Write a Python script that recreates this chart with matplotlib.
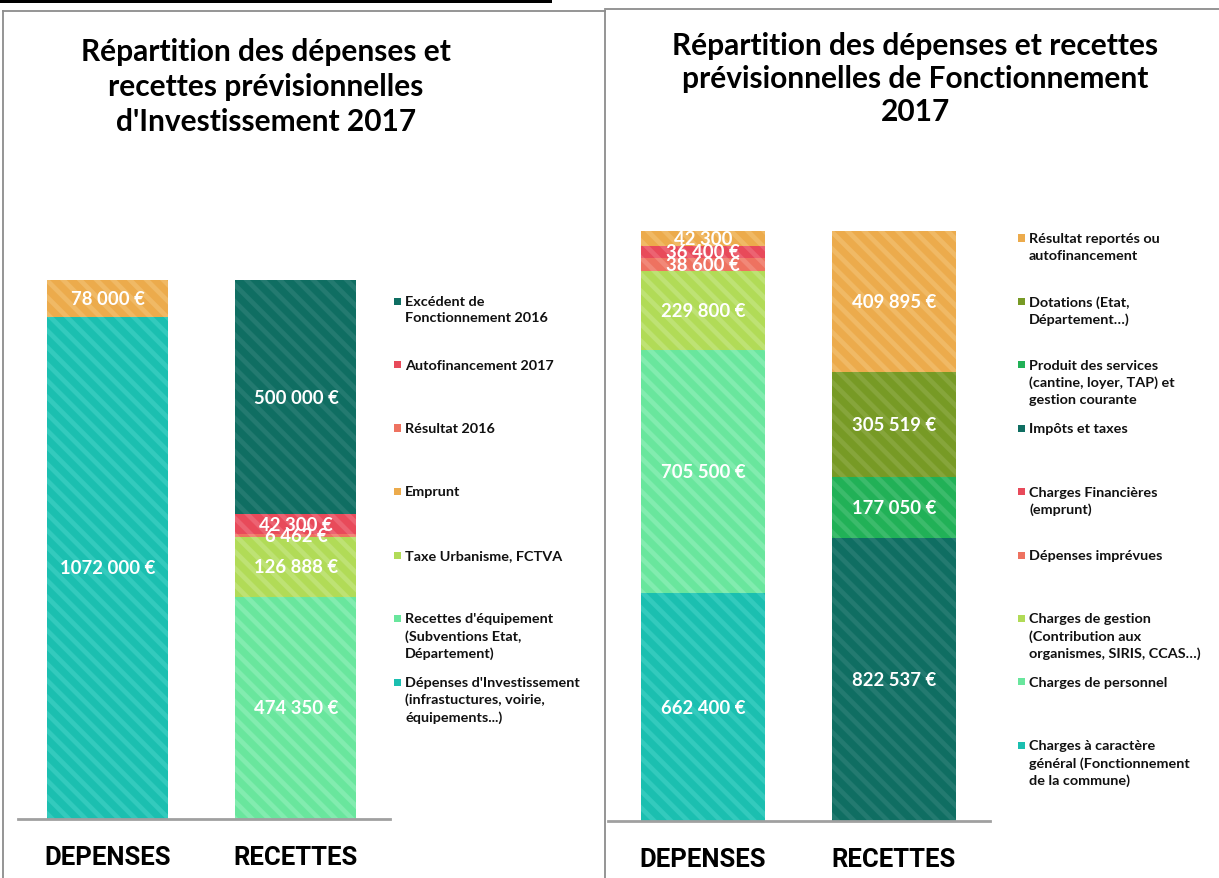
import matplotlib
matplotlib.use("Agg")
import matplotlib.pyplot as plt
from matplotlib.patches import Rectangle
from matplotlib.lines import Line2D
import numpy as np

W, H = 1219, 879

# ---------------- data ----------------
categories = ["DEPENSES", "RECETTES"]

inv_title = "Répartition des dépenses et\nrecettes prévisionnelles\nd'Investissement 2017"
inv_series = [
    "Dépenses d'Investissement\n(infrastuctures, voirie,\néquipements...)",
    "Recettes d'équipement\n(Subventions Etat,\nDépartement)",
    "Taxe Urbanisme, FCTVA",
    "Emprunt",
    "Résultat 2016",
    "Autofinancement 2017",
    "Excédent de\nFonctionnement 2016",
]
inv_values = [
    [1072000, 0],
    [0, 474350],
    [0, 126888],
    [78000, 0],
    [0, 6462],
    [0, 42300],
    [0, 500000],
]
inv_labels = [
    ["1072 000 €", ""],
    ["", "474 350 €"],
    ["", "126 888 €"],
    ["78 000 €", ""],
    ["", "6 462 €"],
    ["", "42 300 €"],
    ["", "500 000 €"],
]

fon_title = "Répartition des dépenses et recettes\nprévisionnelles de Fonctionnement\n2017"
fon_series = [
    "Charges à caractère\ngénéral (Fonctionnement\nde la commune)",
    "Charges de personnel",
    "Charges de gestion\n(Contribution aux\norganismes, SIRIS, CCAS…)",
    "Dépenses imprévues",
    "Charges Financières\n(emprunt)",
    "Impôts et taxes",
    "Produit des services\n(cantine, loyer, TAP) et\ngestion courante",
    "Dotations (Etat,\nDépartement…)",
    "Résultat reportés ou\nautofinancement",
]
fon_values = [
    [662400, 0],
    [705500, 0],
    [229800, 0],
    [38600, 0],
    [36400, 0],
    [0, 822537],
    [0, 177050],
    [0, 305519],
    [42300, 409895],
]
fon_labels = [
    ["662 400 €", ""],
    ["705 500 €", ""],
    ["229 800 €", ""],
    ["38 600 €", ""],
    ["36 400 €", ""],
    ["", "822 537 €"],
    ["", "177 050 €"],
    ["", "305 519 €"],
    ["42 300", "409 895 €"],
]

# ---------------- styles ----------------
C_TEAL = ("#1bbfb0", "#33cabd")
C_DTEAL = ("#0f6e62", "#237a70")
C_ORANGE = ("#ecab4c", "#f0b965")
C_RED = ("#e84a5a", "#ec6372")
C_SALMON = ("#ee7260", "#f18878")
C_YG = ("#b1db57", "#bee274")
C_LG = ("#69e69d", "#82ecaf")
C_OLIVE = ("#779a25", "#86a53b")
C_GREEN = ("#21b157", "#3bbb6b")

inv_colors = [C_TEAL, C_LG, C_YG, C_ORANGE, C_SALMON, C_RED, C_DTEAL]
fon_colors = [C_TEAL, C_LG, C_YG, C_SALMON, C_RED, C_DTEAL, C_GREEN, C_OLIVE, C_ORANGE]

FONT = ["Lato", "DejaVu Sans"]
CAT_FONT = ["Roboto", "DejaVu Sans"]

plt.rcParams["hatch.linewidth"] = 3.4
HATCH = "\\\\"

fig = plt.figure(figsize=(W / 100, H / 100), dpi=100)


def fx(x):
    return x / W


def fy(y):
    return 1 - y / H


def make_axes(left, right, bottom, top):
    return fig.add_axes([fx(left), fy(bottom), (right - left) / W, (bottom - top) / H])


def draw_stack(ax, values, labels, colors, width):
    x = np.arange(len(categories))
    bottom = np.zeros(len(categories))
    for vals, labs, (base, stripe) in zip(values, labels, colors):
        vals = np.array(vals, dtype=float)
        bars = ax.bar(x, vals, width, bottom=bottom, color=base, edgecolor=stripe,
                      linewidth=0, hatch=HATCH)
        ax.bar_label(bars, labels=labs, label_type="center", color="white",
                     fontsize=13.3, fontweight="bold", family=FONT)
        bottom += vals
    return bottom.max()


def style_axes(ax, xlim, total):
    ax.set_xlim(*xlim)
    ax.set_ylim(0, total)
    for s in ["left", "right", "top"]:
        ax.spines[s].set_visible(False)
    ax.spines["bottom"].set_color("#a0a0a0")
    ax.spines["bottom"].set_linewidth(2)
    ax.set_yticks([])
    ax.set_xticks(range(len(categories)))
    ax.set_xticklabels(categories, fontsize=18.5, fontweight="bold", family=CAT_FONT)
    ax.tick_params(axis="x", length=0, pad=19)
    ax.patch.set_alpha(0)


# ---------- left chart: investissement ----------
axL = make_axes(18, 390, 820, 281)
totL = draw_stack(axL, inv_values, inv_labels, inv_colors, 0.642)
style_axes(axL, (-0.475, 1.499), totL)

# ---------- right chart: fonctionnement ----------
axR = make_axes(608, 990, 822, 232)
totR = draw_stack(axR, fon_values, fon_labels, fon_colors, 0.649)
style_axes(axR, (-0.497, 1.503), totR)

# ---------- titles ----------
fig.text(fx(266), fy(87), inv_title, ha="center", va="center", fontsize=21.5,
         fontweight="bold", family=FONT, linespacing=1.3)
fig.text(fx(915), fy(79), fon_title, ha="center", va="center", fontsize=21.5,
         fontweight="bold", family=FONT, linespacing=1.22)


# ---------- legends (Excel-like, evenly spaced slots, top series first) ----------
def draw_legend(names, colors, x_sq, x_txt, y_first, step):
    for i, (name, (base, _)) in enumerate(zip(names[::-1], colors[::-1])):
        y = y_first + i * step
        fig.add_artist(Rectangle((fx(x_sq), fy(y + 3.5)), 7 / W, 7 / H,
                                 transform=fig.transFigure, color=base, lw=0))
        fig.text(fx(x_txt), fy(y - 6), name, ha="left", va="top", fontsize=10.4,
                 fontweight="bold", family=FONT, color="#111111", linespacing=1.45)


draw_legend(inv_series, inv_colors, 394, 405, 302, 63.5)
draw_legend(fon_series, fon_colors, 1018, 1029, 239, 63.4)

# ---------- frames ----------
grey = "#8c8c8c"
fig.add_artist(Rectangle((0, fy(4)), fx(552), 4 / H, transform=fig.transFigure,
                         color="black", lw=0))
for (x0, y0, x1, y1) in [(3, 12, 605, 12), (3, 12, 3, 879), (605, 12, 605, 879),
                         (605, 10, 1219, 10)]:
    fig.add_artist(Line2D([fx(x0), fx(x1)], [fy(y0), fy(y1)], transform=fig.transFigure,
                          color=grey, lw=1.3))

fig.savefig("out.png", dpi=100)
